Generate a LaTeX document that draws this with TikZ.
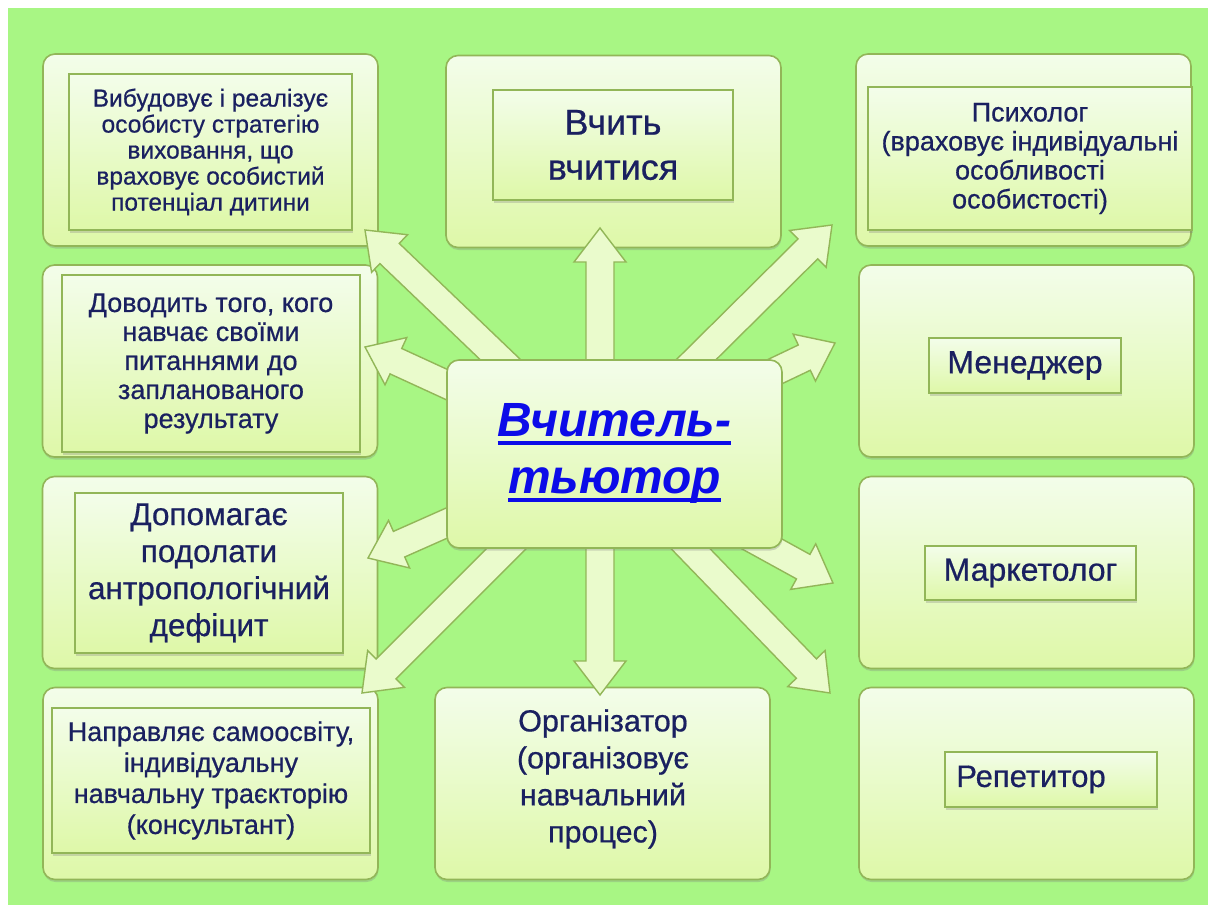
\documentclass[tikz,border=0pt]{standalone}
\usepackage{fontspec}
\setmainfont{Liberation Sans}
\newfontfamily\boxfont[FakeBold=0.6]{Liberation Sans}
\usetikzlibrary{calc,shadows}

\definecolor{meadow}{RGB}{168,246,132}
\definecolor{olivebd}{RGB}{146,182,88}
\definecolor{paletop}{RGB}{243,253,234}
\definecolor{palebot}{RGB}{222,248,168}
\definecolor{inktext}{RGB}{26,32,96}
\definecolor{linkblue}{RGB}{12,12,232}

% thick underline for the central title
\newcommand{\tutorline}[1]{\setbox0\hbox{#1}\rlap{\rule[-8pt]{\wd0}{3.5pt}}\box0}

% wide block arrow from #1 to #2
\newcommand{\drawspoke}[2]{%
  \coordinate (hb) at ($(#2)!34pt!(#1)$);
  \draw[spokeline] ($(#1)!14pt!90:(#2)$) -- ($(hb)!14pt!90:(#2)$)
    -- ($(hb)!26pt!90:(#2)$) -- (#2) -- ($(hb)!26pt!-90:(#2)$)
    -- ($(hb)!14pt!-90:(#2)$) -- ($(#1)!14pt!-90:(#2)$) -- cycle;}

\begin{document}
\begin{tikzpicture}[x=1pt,y=-1pt,
    card/.style={draw=olivebd, line width=1.6pt, rounded corners=12pt,
      top color=paletop, bottom color=palebot, inner sep=0pt,
      minimum width=335pt, minimum height=192pt,
      drop shadow={shadow xshift=0.5pt, shadow yshift=-2.5pt, opacity=0.3}},
    notebox/.style={draw=olivebd, line width=1.4pt, top color=paletop,
      bottom color=palebot, inner sep=0pt, align=center, text=inktext,
      drop shadow={shadow xshift=1pt, shadow yshift=-2.5pt, opacity=0.3}},
    plain/.style={align=center, text=inktext},
    spokeline/.style={draw=olivebd, line width=1.4pt, fill=paletop!55!palebot,
      line join=miter}]

  \useasboundingbox (0,0) rectangle (1216,915);
  \fill[white] (0,0) rectangle (1216,915);
  \fill[meadow] (8,8) rectangle (1208,905);

  % outer cards
  \node[card] (cardL1) at (210.5,150) {};
  \node[card] (cardL2) at (210,361) {};
  \node[card] (cardL3) at (210,572.5) {};
  \node[card] (cardL4) at (210.5,783.5) {};
  \node[card] (cardT) at (613.5,151.5) {};
  \node[card] (cardB) at (602.5,783.5) {};
  \node[card] (cardR1) at (1023.5,150) {};
  \node[card] (cardR2) at (1026.5,361) {};
  \node[card] (cardR3) at (1026.5,572.5) {};
  \node[card] (cardR4) at (1026.5,783.5) {};

  % arrows out of the centre
  \coordinate (hub) at (600,455);
  \coordinate (tipT) at (600,228);
  \coordinate (tipB) at (600,695);
  \coordinate (tipUL) at (365,230);
  \coordinate (tipUR) at (832,225);
  \coordinate (tipML) at (365,347);
  \coordinate (tipMR) at (835,343);
  \coordinate (tipLL) at (368,558);
  \coordinate (tipLR) at (833,583);
  \coordinate (tipBL) at (362,693);
  \coordinate (tipBR) at (830,693);
  \foreach \t in {tipT,tipB,tipUL,tipUR,tipML,tipMR,tipLL,tipLR,tipBL,tipBR}
    \drawspoke{hub}{\t};

  \node[card, minimum height=188pt] (tutor) at (614.5,454)
    {\fontsize{48}{55}\selectfont\bfseries\itshape\color{linkblue}%
     \begin{tabular}{@{}c@{}}\tutorline{Вчитель-}\\[2pt]\tutorline{тьютор}\end{tabular}};

  % inner text boxes
  \node[notebox, minimum width=283pt, minimum height=156pt,
    font=\boxfont\fontsize{24.5}{26}\selectfont] (noteL1) at (210.5,152)
    {Вибудовує і реалізує\\особисту стратегію\\виховання, що\\враховує особистий\\потенціал дитини};
  \node[notebox, minimum width=240pt, minimum height=110pt,
    font=\boxfont\fontsize{36}{45}\selectfont] (noteT) at (613,145)
    {Вчить\\вчитися};
  \node[notebox, minimum width=324pt, minimum height=143pt,
    font=\boxfont\fontsize{27}{29}\selectfont] (noteR1) at (1030,158.5)
    {Психолог\\(враховує індивідуальні\\особливості\\особистості)};
  \node[notebox, minimum width=298pt, minimum height=177pt,
    font=\boxfont\fontsize{27}{29}\selectfont] (noteL2) at (211,363.5)
    {Доводить того, кого\\навчає своїми\\питаннями до\\запланованого\\результату};
  \node[notebox, minimum width=268pt, minimum height=160pt,
    font=\boxfont\fontsize{31.5}{37}\selectfont] (noteL3) at (209,573)
    {Допомагає\\подолати\\антропологічний\\дефіцит};
  \node[notebox, minimum width=318pt, minimum height=145pt,
    font=\boxfont\fontsize{27}{31}\selectfont] (noteL4) at (211,780.5)
    {Направляє самоосвіту,\\індивідуальну\\навчальну траєкторію\\(консультант)};
  \node[notebox, minimum width=192pt, minimum height=55pt,
    font=\boxfont\fontsize{32}{38}\selectfont] (noteR2) at (1025,365.5) {Менеджер};
  \node[notebox, minimum width=211pt, minimum height=54pt,
    font=\boxfont\fontsize{32}{38}\selectfont] (noteR3) at (1030.5,573) {Маркетолог};
  \node[notebox, minimum width=212pt, minimum height=55pt,
    font=\boxfont\fontsize{31}{38}\selectfont] (noteR4) at (1051,779.5) {\hspace*{-40pt}Репетитор};
  \node[plain, font=\boxfont\fontsize{30.5}{37}\selectfont] (noteB) at (603,779)
    {Організатор\\(організовує\\навчальний\\процес)};
\end{tikzpicture}
\end{document}
